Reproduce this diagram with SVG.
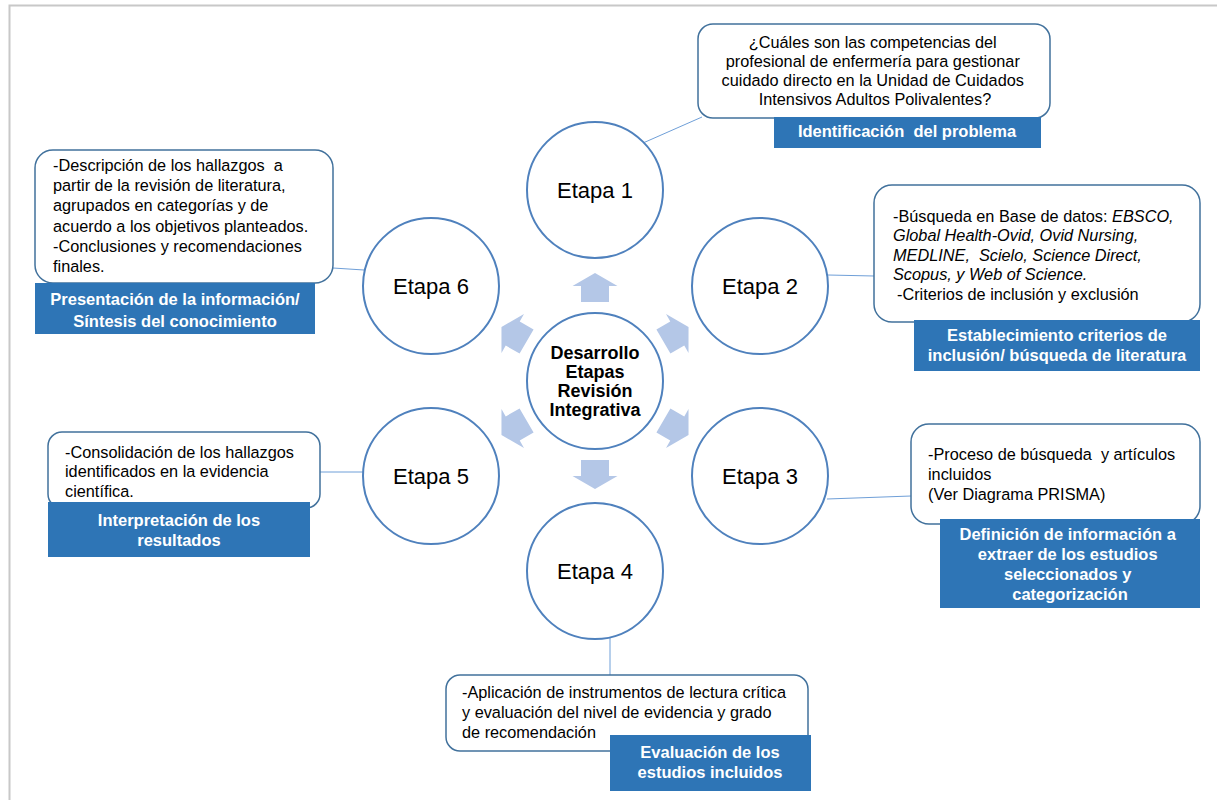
<svg xmlns="http://www.w3.org/2000/svg" width="1217" height="800" viewBox="0 0 1217 800">
<style>
.frame{stroke:#c8c8c8;stroke-width:2;fill:none}
.stage{fill:#fff;stroke:#4f81bd;stroke-width:2}
.box{fill:#fff;stroke:#41719c;stroke-width:1.5}
.lbl{fill:#2e75b6}
.conn{stroke:#6f9fd8;stroke-width:1;fill:none}
.arr{fill:#b4c7e7}
.st{font-family:"Liberation Sans",Arial,sans-serif;font-size:22px;fill:#000;text-anchor:middle}
.ct{font-family:"Liberation Sans",Arial,sans-serif;font-size:18px;font-weight:bold;fill:#000;text-anchor:middle}
.tx{font-family:"Liberation Sans",Arial,sans-serif;font-size:16.3px;fill:#000}
.lt{font-family:"Liberation Sans",Arial,sans-serif;font-size:16.5px;font-weight:bold;fill:#fff;text-anchor:middle}
</style>
<defs>
<path id="arrow" d="M0,-108 L22.5,-95 L14,-95 L14,-79 L-14,-79 L-14,-95 L-22.5,-95 Z"/>
</defs>
<path class="frame" d="M9.5,800 V5.5 H1217"/>

<g id="arrows" class="arr">
<use href="#arrow" transform="translate(595,381)"/>
<use href="#arrow" transform="translate(595,381) rotate(60)"/>
<use href="#arrow" transform="translate(595,381) rotate(120)"/>
<use href="#arrow" transform="translate(595,381) rotate(180)"/>
<use href="#arrow" transform="translate(595,381) rotate(240)"/>
<use href="#arrow" transform="translate(595,381) rotate(300)"/>
</g>

<g id="connectors" class="conn">
<line x1="643" y1="143" x2="702" y2="117"/>
<line x1="828" y1="275" x2="874" y2="276"/>
<line x1="827" y1="499" x2="911" y2="496"/>
<line x1="610" y1="637" x2="610" y2="675"/>
<line x1="320" y1="472" x2="363" y2="472"/>
<line x1="333" y1="268" x2="364" y2="270"/>
</g>

<g id="center">
<circle class="stage" cx="595" cy="381" r="68"/>
<text class="ct" x="595" y="359">Desarrollo</text>
<text class="ct" x="595" y="378">Etapas</text>
<text class="ct" x="595" y="397">Revisión</text>
<text class="ct" x="595" y="416">Integrativa</text>
</g>

<g id="etapa1"><circle class="stage" cx="595" cy="190" r="68"/><text class="st" x="595" y="198">Etapa 1</text></g>
<g id="etapa2"><circle class="stage" cx="760" cy="286" r="68"/><text class="st" x="760" y="294">Etapa 2</text></g>
<g id="etapa3"><circle class="stage" cx="760" cy="476" r="68"/><text class="st" x="760" y="484">Etapa 3</text></g>
<g id="etapa4"><circle class="stage" cx="595" cy="571" r="68"/><text class="st" x="595" y="579">Etapa 4</text></g>
<g id="etapa5"><circle class="stage" cx="431" cy="476" r="68"/><text class="st" x="431" y="484">Etapa 5</text></g>
<g id="etapa6"><circle class="stage" cx="431" cy="286" r="68"/><text class="st" x="431" y="294">Etapa 6</text></g>

<g id="box1">
<rect class="box" x="698" y="24" width="352" height="94" rx="15"/>
<text class="tx" text-anchor="middle">
<tspan x="875" y="48">¿Cuáles son las competencias del</tspan>
<tspan x="875" y="67">profesional de enfermería para gestionar</tspan>
<tspan x="875" y="86">cuidado directo en la Unidad de Cuidados</tspan>
<tspan x="875" y="105">Intensivos Adultos Polivalentes?</tspan>
</text>
<rect class="lbl" x="774" y="117" width="267" height="31"/>
<text class="lt" x="907" y="137">Identificación&#160; del problema</text>
</g>

<g id="box2">
<rect class="box" x="874" y="185" width="326" height="137" rx="18"/>
<text class="tx">
<tspan x="893" y="222">-Búsqueda en Base de datos: <tspan font-style="italic">EBSCO,</tspan></tspan>
<tspan x="893" y="241" font-style="italic">Global Health-Ovid, Ovid Nursing,</tspan>
<tspan x="893" y="261" font-style="italic">MEDLINE,&#160; Scielo, Science Direct,</tspan>
<tspan x="893" y="280" font-style="italic">Scopus, y Web of Science.</tspan>
<tspan x="897" y="300">-Criterios de inclusión y exclusión</tspan>
</text>
<rect class="lbl" x="914" y="320" width="286" height="51"/>
<text class="lt"><tspan x="1057" y="341">Establecimiento criterios de</tspan><tspan x="1057" y="361">inclusión/ búsqueda de literatura</tspan></text>
</g>

<g id="box3">
<rect class="box" x="911" y="424" width="289" height="100" rx="18"/>
<text class="tx">
<tspan x="928" y="460">-Proceso de búsqueda&#160; y artículos</tspan>
<tspan x="928" y="480">incluidos</tspan>
<tspan x="928" y="500">(Ver Diagrama PRISMA)</tspan>
</text>
<rect class="lbl" x="940" y="519" width="260" height="89"/>
<text class="lt">
<tspan x="1070" y="540">Definición de información a</tspan>
<tspan x="1070" y="560">extraer de los estudios</tspan>
<tspan x="1070" y="580">seleccionados y</tspan>
<tspan x="1070" y="600">categorización</tspan>
</text>
</g>

<g id="box4">
<rect class="box" x="446" y="675" width="362" height="76" rx="14"/>
<text class="tx">
<tspan x="462" y="698">-Aplicación de instrumentos de lectura crítica</tspan>
<tspan x="462" y="718">y evaluación del nivel de evidencia y grado</tspan>
<tspan x="462" y="738">de recomendación</tspan>
</text>
<rect class="lbl" x="610" y="735" width="201" height="56"/>
<text class="lt"><tspan x="710" y="758">Evaluación de los</tspan><tspan x="710" y="778">estudios incluidos</tspan></text>
</g>

<g id="box5">
<rect class="box" x="48" y="432" width="272" height="76" rx="14"/>
<text class="tx">
<tspan x="65" y="458">-Consolidación de los hallazgos</tspan>
<tspan x="65" y="477">identificados en la evidencia</tspan>
<tspan x="65" y="497">científica.</tspan>
</text>
<rect class="lbl" x="48" y="502" width="262" height="55"/>
<text class="lt"><tspan x="179" y="526">Interpretación de los</tspan><tspan x="179" y="546">resultados</tspan></text>
</g>

<g id="box6">
<rect class="box" x="35" y="150" width="298" height="133" rx="18"/>
<text class="tx">
<tspan x="53" y="171">-Descripción de los hallazgos&#160; a</tspan>
<tspan x="53" y="191">partir de la revisión de literatura,</tspan>
<tspan x="53" y="211">agrupados en categorías y de</tspan>
<tspan x="53" y="232">acuerdo a los objetivos planteados.</tspan>
<tspan x="53" y="252">-Conclusiones y recomendaciones</tspan>
<tspan x="53" y="272">finales.</tspan>
</text>
<rect class="lbl" x="35" y="283" width="280" height="51"/>
<text class="lt"><tspan x="175" y="305">Presentación de la información/</tspan><tspan x="175" y="327">Síntesis del conocimiento</tspan></text>
</g>
</svg>
